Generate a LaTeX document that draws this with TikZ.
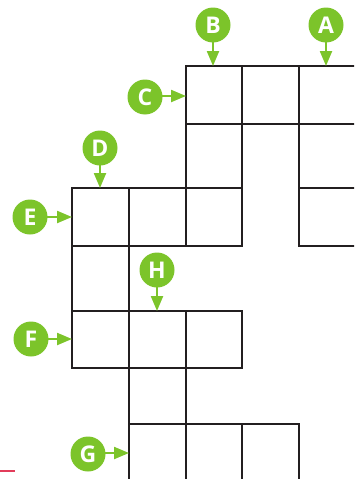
\documentclass[tikz,border=0pt]{standalone}
\usepackage{fontspec}
\setmainfont{Open Sans}
\usetikzlibrary{arrows.meta}
\definecolor{lblgreen}{RGB}{124,196,42}
\definecolor{gridink}{RGB}{35,31,32}
\definecolor{markred}{RGB}{226,60,90}
\tikzset{
  gridline/.style={draw=gridink,line width=2.4pt,line cap=rect},
  lbl/.style={circle,fill=lblgreen,minimum size=35pt,inner sep=0pt,text=white,font=\fontsize{23}{23}\selectfont\bfseries},
  pointer/.style={draw=lblgreen,line width=2.2pt,-{Triangle[length=15pt,width=12pt]},shorten <=-1pt}
}
\begin{document}
\begin{tikzpicture}[x=1pt,y=-1pt]
\useasboundingbox (0,0) rectangle (354,479);
\clip (0,0) rectangle (354,479);
% grid
\draw[gridline] (186,66) -- (360,66);
\draw[gridline] (186,124) -- (360,124);
\draw[gridline] (72,188) -- (242,188);
\draw[gridline] (299,188) -- (360,188);
\draw[gridline] (72,246) -- (242,246);
\draw[gridline] (299,246) -- (360,246);
\draw[gridline] (72,311) -- (242,311);
\draw[gridline] (72,368) -- (242,368);
\draw[gridline] (129,424) -- (299,424);
\draw[gridline] (72,188) -- (72,368);
\draw[gridline] (129,188) -- (129,485);
\draw[gridline] (186,66) -- (186,246);
\draw[gridline] (186,311) -- (186,485);
\draw[gridline] (242,66) -- (242,246);
\draw[gridline] (242,311) -- (242,368);
\draw[gridline] (242,424) -- (242,485);
\draw[gridline] (299,66) -- (299,246);
\draw[gridline] (299,424) -- (299,485);
% red mark
\draw[markred,line width=1.6pt] (0,471) -- (15,471);
% targets
\coordinate (tA) at (326,66);
\coordinate (tB) at (213,66);
\coordinate (tC) at (186,96);
\coordinate (tD) at (100,188);
\coordinate (tE) at (72,217);
\coordinate (tF) at (72,339);
\coordinate (tG) at (129,453);
\coordinate (tH) at (157,311);
% labels
\node[lbl] (A) at (326,25) {A};
\node[lbl] (B) at (213,25) {B};
\node[lbl] (C) at (145,97) {C};
\node[lbl] (D) at (100,148) {D};
\node[lbl] (E) at (30,217) {E};
\node[lbl] (F) at (31,339) {F};
\node[lbl] (G) at (88,454) {G};
\node[lbl] (H) at (157,270) {H};
\draw[pointer] (A.south) -- (tA);
\draw[pointer] (B.south) -- (tB);
\draw[pointer] (C.east |- tC) -- (tC);
\draw[pointer] (D.south) -- (tD);
\draw[pointer] (E.east) -- (tE);
\draw[pointer] (F.east) -- (tF);
\draw[pointer] (G.east |- tG) -- (tG);
\draw[pointer] (H.south) -- (tH);
\end{tikzpicture}
\end{document}
